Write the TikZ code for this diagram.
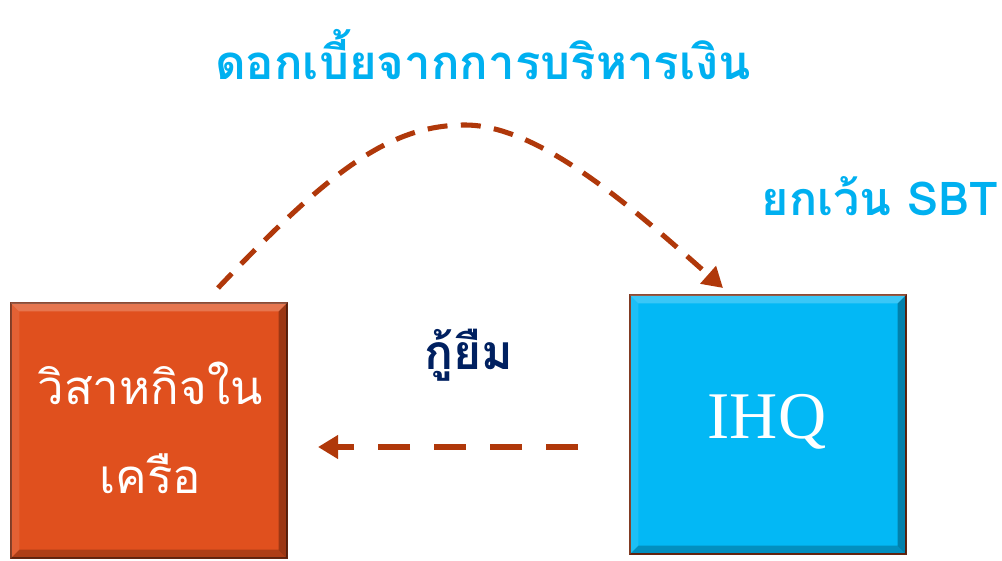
\documentclass[tikz,border=0pt]{standalone}
\usepackage{fontspec}
\newfontfamily\thaifont[Script=Thai]{Loma}
\newfontfamily\ihqfont{Liberation Serif}
\usetikzlibrary{arrows.meta,calc}
\definecolor{orangebox}{RGB}{224,80,30}
\definecolor{bluebox}{RGB}{3,184,245}
\definecolor{arrowc}{RGB}{176,56,10}
\definecolor{titleblue}{RGB}{0,176,240}
\definecolor{navytxt}{RGB}{0,32,96}
\definecolor{rimc}{RGB}{120,45,20}
\tikzset{
  boxnode/.style={draw=rimc, line width=1pt, inner sep=0pt, text=white, align=center},
  flowarrow/.style={draw=arrowc, line width=3.8pt, -{Triangle[length=15pt,width=17pt]}},
  bevlight/.style={fill=white, fill opacity=0.22, draw=none},
  bevdark/.style={fill=black, fill opacity=0.30, draw=none},
}
\newcommand{\bevelit}[1]{%
  \fill[bevlight] (#1.north west) -- (#1.north east) -- ($(#1.north east)+(-9,9)$) -- ($(#1.north west)+(9,9)$) -- cycle;
  \fill[bevlight, fill opacity=0.10] (#1.north west) -- ($(#1.north west)+(9,9)$) -- ($(#1.south west)+(9,-9)$) -- (#1.south west) -- cycle;
  \fill[bevdark] (#1.north east) -- (#1.south east) -- ($(#1.south east)+(-9,-9)$) -- ($(#1.north east)+(-9,9)$) -- cycle;
  \fill[bevdark, fill opacity=0.22] (#1.south west) -- (#1.south east) -- ($(#1.south east)+(-9,-9)$) -- ($(#1.south west)+(9,-9)$) -- cycle;
}
\begin{document}
\begin{tikzpicture}[x=0.75pt,y=-0.75pt]
\useasboundingbox (0,0) rectangle (1002,560);
% boxes
\node[boxnode, fill=orangebox, minimum width=207pt, minimum height=191.25pt] (ent) at (149,430.5) {};
\bevelit{ent}
\node[text=white, align=center, font={\thaifont\fontsize{35.5}{67}\selectfont}] (entlbl) at (150,428) {วิสาหกิจใน\\เครือ};
\node[boxnode, fill=bluebox, minimum width=207pt, minimum height=194.25pt] (ihq) at (768,424.5) {};
\bevelit{ihq}
\node[text=white, font={\ihqfont\fontsize{50}{60}\selectfont}] (ihqlbl) at (767,422) {IHQ};
% texts
\node[text=titleblue, font={\thaifont\bfseries\fontsize{35.5}{42}\selectfont}] (title) at (483,55) {ดอกเบี้ยจากการบริหารเงิน};
\node[text=titleblue, font={\thaifont\bfseries\fontsize{35}{42}\selectfont}] (sbt) at (880,196) {ยกเว้น SBT};
\node[text=navytxt, font={\thaifont\bfseries\fontsize{36}{42}\selectfont}] (loan) at (469,355) {กู้ยืม};
% connectors
\coordinate (arcstart) at (218,288);
\coordinate (arcend) at (723,288);
\coordinate (loanstart) at (578,447);
\coordinate (loanend) at (318,447);
\draw[flowarrow, dash pattern=on 15pt off 10pt] (arcstart) .. controls (330,170) and (390,125) .. (465,125) .. controls (540,125) and (635,210) .. (arcend);
\draw[flowarrow, dash pattern=on 24pt off 18pt, dash phase=0pt] (loanstart) -- (loanend);
\end{tikzpicture}
\end{document}
